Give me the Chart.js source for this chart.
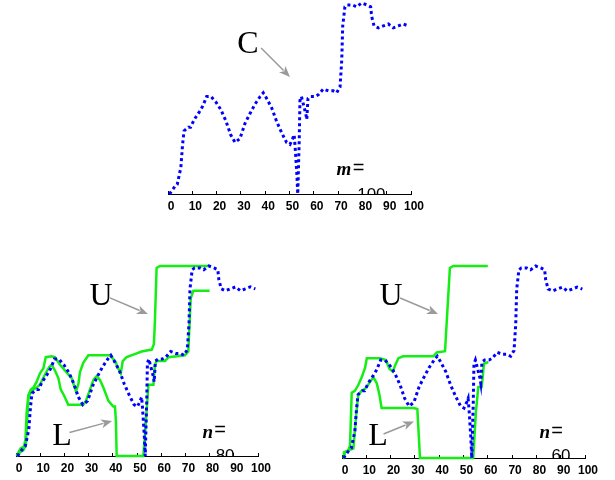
<!DOCTYPE html>
<html>
<head>
<meta charset="utf-8">
<script src="https://cdn.jsdelivr.net/npm/chart.js@4"></script>
<style>
  body { margin: 0; background: #fff; width: 615px; height: 480px; position: relative; overflow: hidden; }
  canvas { position: absolute; }
</style>
</head>
<body>
<canvas id="chart-c" width="300" height="220" style="left:140px;top:0px"></canvas>
<canvas id="chart-n80" width="290" height="230" style="left:0px;top:250px"></canvas>
<canvas id="chart-n60" width="295" height="230" style="left:320px;top:250px"></canvas>
<script>
// shared x ticks
const xTicks = [0, 10, 20, 30, 40, 50, 60, 70, 80, 90, 100];

// C curve (blue dotted), same in all three panels
const cX = [0.6, 2.9, 3.8, 5.3, 6.0, 6.6, 8.4, 9.3, 10.8, 12.9, 14.3, 15.9, 17.7, 19.8, 21.8, 23.9, 25.8, 27.6, 29.6, 31.7,
  33.7, 35.8, 37.9, 39.2, 40.6, 42.7, 44.7, 46.8, 48.8, 50.2, 51.3, 51.9, 52.3, 53.0, 53.4, 54.0, 54.3, 54.9, 55.7, 56.7,
  57.1, 57.6, 58.7, 60.5, 61.9, 63.9, 66.0, 68.0, 69.4, 70.8, 71.5, 71.9, 72.8, 73.8, 76.0, 77.6, 79.7, 81.8, 83.4, 83.8,
  84.8, 86.6, 88.6, 90.7, 92.7, 94.8, 96.8, 98.9];
const cY = [0, 0.04, 0.05, 0.14, 0.26, 0.33, 0.35, 0.35, 0.39, 0.43, 0.46, 0.51, 0.51, 0.48, 0.44, 0.38, 0.31, 0.27, 0.29, 0.37,
  0.42, 0.47, 0.51, 0.53, 0.50, 0.45, 0.38, 0.32, 0.27, 0.26, 0.29, 0.31, 0.25, 0.11, 0, 0.28, 0.49, 0.51, 0.47, 0.42,
  0.39, 0.50, 0.51, 0.51, 0.52, 0.55, 0.54, 0.54, 0.53, 0.56, 0.70, 0.88, 0.98, 0.99, 0.99, 0.98, 1.0, 0.99, 0.98, 0.93,
  0.88, 0.87, 0.88, 0.89, 0.87, 0.88, 0.89, 0.88];

// n = 80 bounds
const u80X = [0.3, 1.0, 1.9, 3.3, 3.9, 4.4, 5.1, 6.1, 7.2, 8.5, 9.9, 11.3, 12.3, 14.7, 16.1, 18.2, 20.9, 23.0, 24.0, 24.8,
  25.8, 26.4, 27.8, 29.9, 38.8, 40.9, 42.3, 43.3, 44.1, 45.7, 49.9, 51.9, 56.1, 57.0, 57.4, 58.1, 59.5, 80];
const u80Y = [0, 0.02, 0.04, 0.05, 0.085, 0.23, 0.32, 0.35, 0.36, 0.39, 0.435, 0.46, 0.52, 0.525, 0.52, 0.48, 0.44, 0.41, 0.37, 0.34,
  0.38, 0.44, 0.49, 0.53, 0.53, 0.50, 0.46, 0.435, 0.50, 0.52, 0.54, 0.55, 0.56, 0.59, 0.71, 0.99, 1.0, 1.0];
const l80X = [0.3, 1.7, 3.0, 4.1, 5.1, 5.8, 7.2, 8.5, 9.9, 12.0, 13.8, 14.7, 16.1, 17.5, 18.5, 19.8, 21.6, 27.8, 28.9, 30.3,
  32.0, 33.3, 34.7, 36.1, 38.2, 40.2, 40.9, 41.3, 41.6, 52.6, 53.3, 54.7, 56.8, 57.4, 58.1, 61.6, 63.0, 69.8, 71.2, 72.2, 73.3, 80];
const l80Y = [0, 0.02, 0.03, 0.06, 0.30, 0.33, 0.35, 0.36, 0.375, 0.43, 0.47, 0.48, 0.45, 0.41, 0.35, 0.32, 0.27, 0.27, 0.29, 0.34,
  0.40, 0.42, 0.40, 0.36, 0.29, 0.26, 0.26, 0.18, 0, 0, 0.11, 0.375, 0.375, 0.48, 0.50, 0.50, 0.52, 0.53, 0.55, 0.83, 0.87, 0.87];

// n = 60 bounds
const u60X = [0.5, 0.8, 2.6, 3.3, 4.0, 5.3, 6.7, 8.1, 9.5, 10.2, 15.6, 18.1, 19.5, 20.9, 21.8, 23.2, 25.2, 37.6, 39.0, 42.4,
  43.1, 44.4, 45.8, 60];
const u60Y = [0, 0.03, 0.04, 0.066, 0.34, 0.35, 0.38, 0.42, 0.47, 0.52, 0.52, 0.51, 0.465, 0.45, 0.48, 0.52, 0.53, 0.53, 0.55, 0.556,
  0.71, 0.99, 1.0, 1.0];
const l60X = [0.8, 1.2, 2.6, 4.7, 5.8, 6.7, 8.1, 9.5, 11.2, 12.9, 14.3, 15.4, 16.3, 29.4, 31.0, 32.1, 54.0, 55.1, 56.1, 57.5,
  58.4, 60.2];
const l60Y = [0, 0.03, 0.04, 0.05, 0.22, 0.33, 0.35, 0.36, 0.39, 0.42, 0.39, 0.33, 0.26, 0.26, 0.255, 0, 0, 0.24, 0.37, 0.37,
  0.49, 0.50];

const BLUE = "#0000ff";
const GREEN = "#14ee14";
const GRAY = "#9a9a9a";
const SERIF = '"Liberation Serif", "Times New Roman", serif';
const SANS = '"Liberation Sans", Arial, sans-serif';

function pts(xs, ys) {
  return xs.map((x, i) => ({ x: x, y: ys[i] }));
}

function drawArrow(ctx, x1, y1, x2, y2) {
  const ang = Math.atan2(y2 - y1, x2 - x1);
  const head = 11, half = 4.5;
  const bx = x2 - head * Math.cos(ang), by = y2 - head * Math.sin(ang);
  ctx.strokeStyle = GRAY;
  ctx.lineWidth = 1.5;
  ctx.beginPath();
  ctx.moveTo(x1, y1);
  ctx.lineTo(bx + 2 * Math.cos(ang), by + 2 * Math.sin(ang));
  ctx.stroke();
  ctx.fillStyle = GRAY;
  ctx.beginPath();
  ctx.moveTo(x2, y2);
  ctx.lineTo(bx - half * Math.sin(ang), by + half * Math.cos(ang));
  ctx.lineTo(bx + 3 * Math.cos(ang), by + 3 * Math.sin(ang));
  ctx.lineTo(bx + half * Math.sin(ang), by - half * Math.cos(ang));
  ctx.closePath();
  ctx.fill();
}

// letters, arrows and the m= / n= labels, placed in data units
const notesPlugin = {
  id: "notes",
  afterDraw(chart, args, opts) {
    const ctx = chart.ctx;
    const area = chart.chartArea;
    const px = v => chart.scales.x.getPixelForValue(v);
    const py = v => chart.scales.y.getPixelForValue(v);
    (opts.arrows || []).forEach(a => {
      ctx.save();
      drawArrow(ctx, px(a[0]), py(a[1]), px(a[2]), py(a[3]));
      ctx.restore();
    });
    (opts.texts || []).forEach(t => {
      ctx.save();
      if (t.clip) {
        ctx.beginPath();
        ctx.rect(area.left, area.top, area.right - area.left, area.bottom - area.top);
        ctx.clip();
      }
      ctx.font = t.font;
      ctx.fillStyle = "#000";
      ctx.textAlign = "center";
      ctx.textBaseline = t.baseline || "middle";
      ctx.fillText(t.text, px(t.x), py(t.y));
      ctx.restore();
    });
  }
};

function makeChart(id, datasets, padding, notes) {
  new Chart(document.getElementById(id), {
    type: "line",
    data: { datasets: datasets },
    options: {
      responsive: false,
      animation: false,
      devicePixelRatio: 1,
      layout: { padding: padding },
      plugins: { legend: { display: false }, tooltip: { enabled: false }, notes: notes },
      elements: { point: { radius: 0 }, line: { tension: 0 } },
      scales: {
        x: {
          type: "linear", min: 0, max: 100,
          afterBuildTicks: s => { s.ticks = xTicks.map(v => ({ value: v })); },
          afterFit: s => { s.height = 22; },
          border: { display: true, color: "#000", width: 1 },
          grid: { display: true, drawOnChartArea: false, drawTicks: true, tickLength: -3, color: "#000", lineWidth: 1 },
          ticks: { color: "#000", font: { family: SANS, size: 12, weight: "bold" }, padding: 8, labelOffset: 3, maxRotation: 0 }
        },
        y: { type: "linear", min: 0, max: 1, display: false }
      }
    },
    plugins: [notesPlugin]
  });
}

function blueSet() {
  return { data: pts(cX, cY), borderColor: BLUE, borderWidth: 3, borderDash: [3, 3], fill: false, clip: false };
}
function greenSet(xs, ys) {
  return { data: pts(xs, ys), borderColor: GREEN, borderWidth: 2.5, fill: false, clip: false };
}

makeChart("chart-c", [blueSet()], { left: 28, right: 29, top: 3, bottom: 4 }, {
  arrows: [[38.3, 0.764, 50.2, 0.613]],
  texts: [
    { text: "C", x: 32.9, y: 0.78, font: "32px " + SERIF },
    { text: "m", x: 72.4, y: 0.126, font: "italic bold 19px " + SERIF },
    { text: "=", x: 78.4, y: 0.136, font: "20px " + SANS },
    { text: "100", x: 83.7, y: -0.034, font: "17px " + SANS, baseline: "alphabetic", clip: true }
  ]
});

makeChart("chart-n80", [blueSet(), greenSet(u80X, u80Y), greenSet(l80X, l80Y)],
  { left: 16, right: 32, top: 16, bottom: 2 }, {
  arrows: [[38.8, 0.832, 54.5, 0.747], [22.1, 0.124, 39.7, 0.184]],
  texts: [
    { text: "U", x: 35.1, y: 0.837, font: "32px " + SERIF },
    { text: "L", x: 19, y: 0.1, font: "32px " + SERIF },
    { text: "n", x: 79.3, y: 0.121, font: "italic bold 19px " + SERIF },
    { text: "=", x: 84.3, y: 0.132, font: "20px " + SANS },
    { text: "80", x: 86.4, y: -0.028, font: "17px " + SANS, baseline: "alphabetic", clip: true }
  ]
});

makeChart("chart-n60", [blueSet(), greenSet(u60X, u60Y), greenSet(l60X, l60Y)],
  { left: 22, right: 30, top: 16, bottom: 0 }, {
  arrows: [[23.9, 0.833, 39.5, 0.75], [17.1, 0.125, 29.6, 0.19]],
  texts: [
    { text: "U", x: 20.2, y: 0.839, font: "32px " + SERIF },
    { text: "L", x: 14.8, y: 0.109, font: "32px " + SERIF },
    { text: "n", x: 83.5, y: 0.13, font: "italic bold 19px " + SERIF },
    { text: "=", x: 88.5, y: 0.14, font: "20px " + SANS },
    { text: "60", x: 90.1, y: -0.018, font: "17px " + SANS, baseline: "alphabetic", clip: true }
  ]
});
</script>
</body>
</html>
